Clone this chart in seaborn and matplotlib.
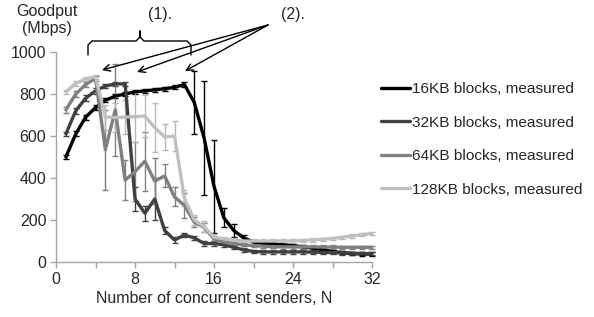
import matplotlib
matplotlib.use("Agg")
import matplotlib.pyplot as plt
import seaborn as sns
import numpy as np
import pandas as pd

# ---- data ----
senders = list(range(1, 33))
series_names = ["16KB blocks, measured", "32KB blocks, measured",
                "64KB blocks, measured", "128KB blocks, measured"]
goodput_16kb = [500, 610, 690, 735, 770, 790, 800, 810, 815, 820, 825, 832, 845, 760, 590, 360,
                210, 150, 115, 95, 88, 85, 82, 78, 72, 66, 58, 50, 44, 40, 38, 38]
goodput_32kb = [610, 720, 780, 815, 838, 848, 848, 300, 232, 300, 150, 105, 128, 115, 88, 88,
                82, 70, 58, 50, 48, 48, 48, 48, 48, 47, 46, 45, 43, 42, 40, 40]
goodput_64kb = [725, 800, 845, 875, 535, 725, 390, 430, 480, 385, 410, 310, 270, 190, 165, 110,
                95, 88, 82, 78, 75, 73, 72, 72, 72, 72, 71, 71, 70, 70, 70, 70]
goodput_128kb = [810, 850, 872, 882, 690, 688, 690, 692, 695, 640, 595, 600, 305, 200, 168, 118,
                 110, 105, 100, 100, 100, 100, 100, 100, 102, 105, 108, 112, 118, 124, 130, 136]
err_16kb = [10, 12, 12, 12, 10, 10, 10, 10, 10, 10, 10, 10, 10, 150, 270, 220,
            45, 30, 15, 10, 8, 10, 8, 8, 8, 8, 10, 8, 8, 8, 8, 8]
err_32kb = [10, 15, 15, 15, 10, 10, 10, 55, 35, 100, 15, 15, 10, 10, 10, 10,
            10, 8, 8, 8, 8, 8, 8, 8, 8, 8, 8, 8, 8, 8, 8, 8]
err_64kb = [15, 15, 12, 12, 190, 220, 95, 140, 140, 110, 55, 45, 60, 25, 20, 15,
            10, 8, 8, 8, 8, 8, 8, 8, 8, 8, 8, 8, 8, 8, 8, 8]
err_128kb = [10, 10, 10, 10, 60, 70, 80, 120, 100, 115, 60, 70, 40, 25, 25, 15,
             10, 8, 8, 8, 8, 8, 8, 8, 8, 8, 8, 8, 8, 8, 8, 8]
x_ticks = [0, 8, 16, 24, 32]
y_ticks = [0, 200, 400, 600, 800, 1000]

values = [goodput_16kb, goodput_32kb, goodput_64kb, goodput_128kb]
errors = [err_16kb, err_32kb, err_64kb, err_128kb]
colors = ["#000000", "#404040", "#808080", "#c0c0c0"]

df = pd.DataFrame({
    "N": senders * 4,
    "Goodput": sum(values, []),
    "Series": sum([[n] * len(senders) for n in series_names], []),
})

sns.set_style("white")
plt.rcParams["font.family"] = ["Liberation Sans", "DejaVu Sans"]
FS = 11.5

W, H = 594, 317
fig = plt.figure(figsize=(W / 100, H / 100), dpi=100)
ax = fig.add_axes([56 / W, 1 - 262 / H, (372 - 56) / W, (262 - 52) / H])

# error bars first (under lines)
for v, e, c in zip(values, errors, colors):
    ax.errorbar(senders, v, yerr=e, fmt="none", ecolor=c if c != "#c0c0c0" else "#b8b8b8",
                elinewidth=1.0, capsize=2.5, capthick=1.0, zorder=1, clip_on=False)

sns.lineplot(data=df, x="N", y="Goodput", hue="Series", palette=colors,
             linewidth=2.4, ax=ax, zorder=3, legend=True)

ax.set_xlim(0, 32)
ax.set_ylim(0, 1000)
ax.set_xticks(x_ticks)
ax.set_xticks([4, 12, 20, 28], minor=True)
ax.set_yticks(y_ticks)
ax.set_xlabel("Number of concurrent senders, N", fontsize=FS, labelpad=3)
ax.set_ylabel("")
for s in ["top", "right"]:
    ax.spines[s].set_visible(False)
for s in ["left", "bottom"]:
    ax.spines[s].set_color("#a6a6a6")
    ax.spines[s].set_linewidth(1.0)
ax.tick_params(axis="both", which="both", direction="out", color="#a6a6a6",
               length=4, width=1.0, labelsize=FS, pad=3, bottom=True, left=True)

# legend
handles, labels = ax.get_legend_handles_labels()
leg = fig.legend(handles, labels, loc="upper left", bbox_to_anchor=(381 / W, 1 - 82 / H),
                 frameon=False, fontsize=11.1, handlelength=1.9, handletextpad=0.1,
                 labelspacing=1.27, borderpad=0, borderaxespad=0)
ax.get_legend().remove()

# y label
fig.text(47 / W, 1 - 20 / H, "Goodput\n(Mbps)", ha="center", va="center",
         fontsize=FS, linespacing=1.2)

# brace (1)
def px2d(px, py):
    return ((px - 56) / 9.875, (262 - py) / 0.21)

bx = [88, 88, 92, 136, 140, 140, 140, 144, 187, 191, 191]
by = [55, 45, 41, 41, 37, 31, 37, 41, 41, 45, 55]
pts = [px2d(a, b) for a, b in zip(bx, by)]
ax.plot([p[0] for p in pts], [p[1] for p in pts], color="black", lw=1.0,
        clip_on=False, solid_joinstyle="round")

fig.text(160 / W, 1 - 15 / H, "(1).", ha="center", va="center", fontsize=FS)
fig.text(293 / W, 1 - 15 / H, "(2).", ha="center", va="center", fontsize=FS)

for tx, ty in [(102, 70), (137, 72), (185, 71)]:
    ax.annotate("", xy=(tx, H - ty), xycoords="figure pixels",
                xytext=(268, H - 25), textcoords="figure pixels",
                arrowprops=dict(arrowstyle="->", color="black", lw=1.0,
                                shrinkA=0, shrinkB=0, mutation_scale=12))

fig.savefig("out.png", dpi=100)
